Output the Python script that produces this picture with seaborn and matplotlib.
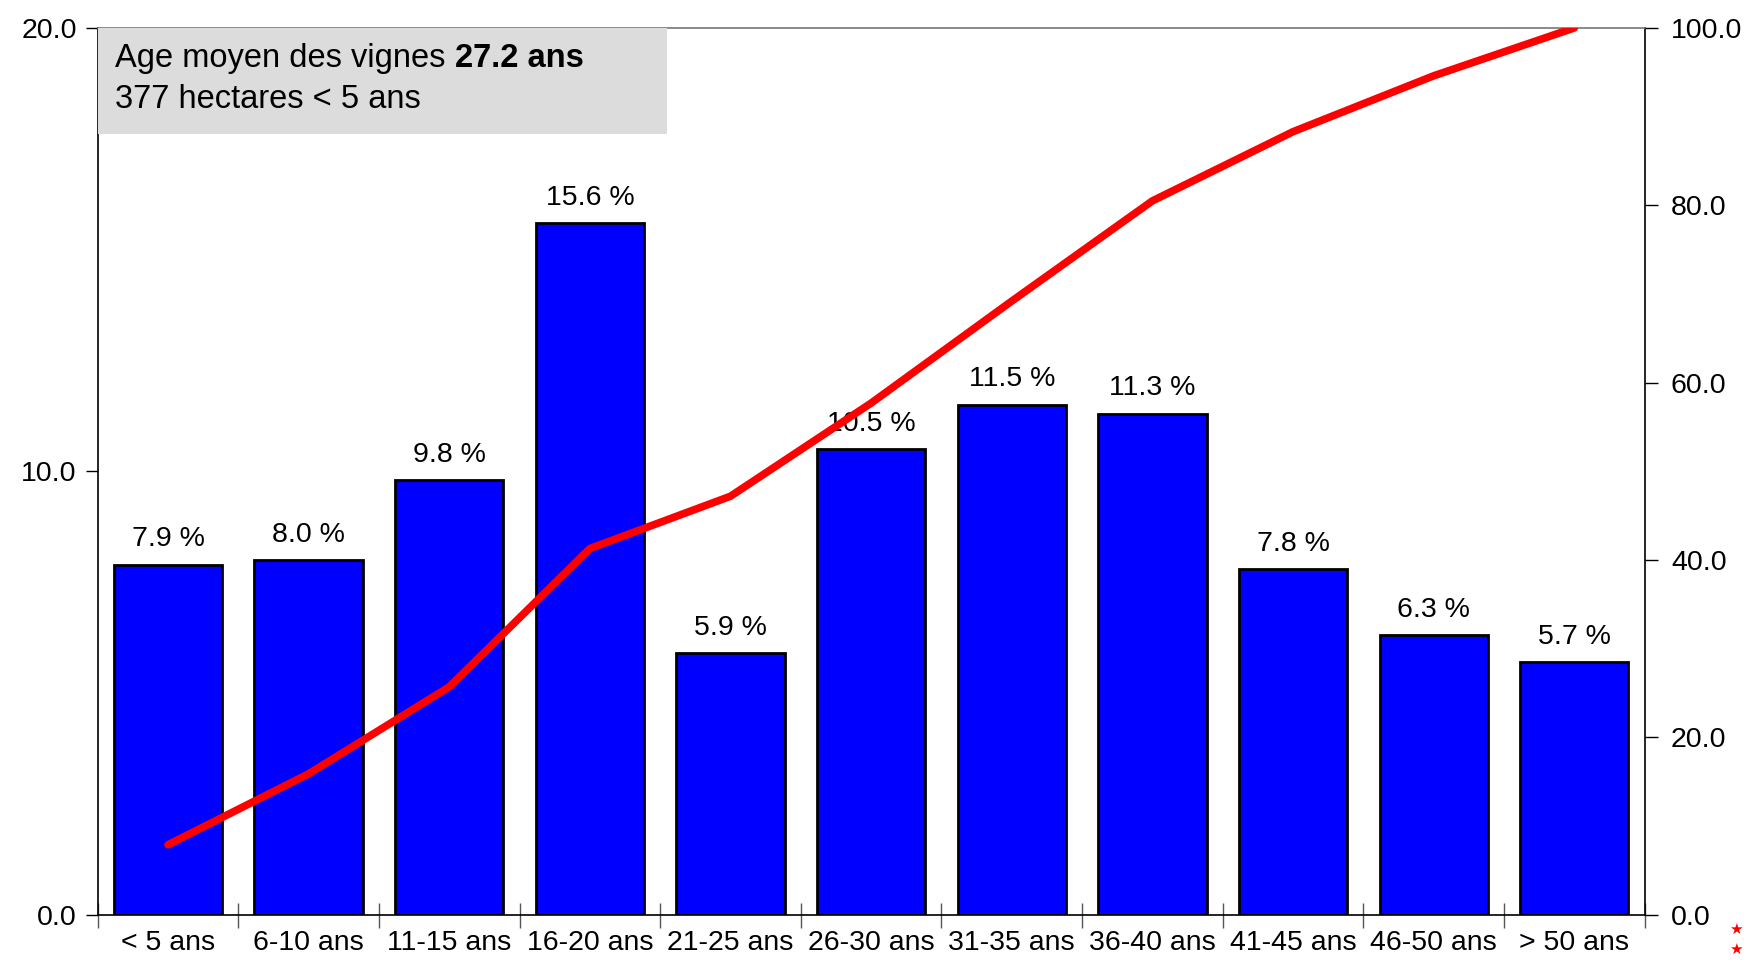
import matplotlib
matplotlib.use("Agg")
import matplotlib.pyplot as plt
import seaborn as sns
from matplotlib.ticker import FixedLocator, FormatStrFormatter

categories = ["< 5 ans", "6-10 ans", "11-15 ans", "16-20 ans", "21-25 ans", "26-30 ans",
              "31-35 ans", "36-40 ans", "41-45 ans", "46-50 ans", "> 50 ans"]
share_pct = [7.9, 8.0, 9.8, 15.6, 5.9, 10.5, 11.5, 11.3, 7.8, 6.3, 5.7]
cumul_pct = [7.9, 15.9, 25.7, 41.3, 47.2, 57.7, 69.2, 80.5, 88.3, 94.6, 100.0]
left_ticks = [0, 10, 20]
right_ticks = [0, 20, 40, 60, 80, 100]
note_line1 = "Age moyen des vignes "
note_bold = "27.2 ans"
note_line2 = "377 hectares < 5 ans"

sns.set_style("white")
plt.rcParams["font.family"] = ["Liberation Sans", "DejaVu Sans"]
plt.rcParams["text.color"] = "black"
plt.rcParams["xtick.color"] = "black"
plt.rcParams["ytick.color"] = "black"
plt.rcParams["xtick.labelcolor"] = "black"
plt.rcParams["ytick.labelcolor"] = "black"

fig = plt.figure(figsize=(17.44, 9.63), dpi=100)
ax = fig.add_axes([0.056, 0.05, 0.887, 0.921])

sns.barplot(x=categories, y=share_pct, color="#0000FF", saturation=1,
            edgecolor="black", linewidth=2, width=0.77, ax=ax, zorder=2)
ax.set_xlim(-0.5, len(categories) - 0.5)
ax.set_ylim(0, 20)
ax.yaxis.set_major_locator(FixedLocator(left_ticks))
ax.yaxis.set_major_formatter(FormatStrFormatter("%.1f"))
ax.tick_params(axis="y", which="major", direction="out", length=9, width=1,
               color="black", labelsize=20.5, pad=6, left=True)
ax.set_xticks(range(len(categories)))
ax.set_xticklabels(categories)
ax.tick_params(axis="x", which="major", length=0, labelsize=20.5, pad=11)
ax.set_xticks([i - 0.5 for i in range(len(categories) + 1)], minor=True)
ax.tick_params(axis="x", which="minor", direction="inout", length=18, width=1,
               color="#555555", bottom=True)
ax.set_xlabel("")
ax.set_ylabel("")

for i, v in enumerate(share_pct):
    ax.text(i, v + 0.28, f"{v:.1f} %", ha="center", va="bottom", fontsize=20.5, zorder=3)

for s in ["left", "bottom", "right"]:
    ax.spines[s].set_color("black")
    ax.spines[s].set_linewidth(1.2)
ax.spines["top"].set_color("#777777")
ax.spines["top"].set_linewidth(1.2)

# annotation box
ax.add_patch(plt.Rectangle((0, 0.88), 0.368, 0.12, transform=ax.transAxes,
                           facecolor="#DCDCDC", edgecolor="none", zorder=4))
t1 = ax.text(0.0115, 0.966, note_line1, transform=ax.transAxes, fontsize=23.5,
             va="center", ha="left", zorder=5)
ax.annotate(note_bold, xy=(1, 0.5), xycoords=t1, va="center", ha="left",
            fontsize=23.5, fontweight="bold", zorder=5)
ax.text(0.0115, 0.919, note_line2, transform=ax.transAxes, fontsize=23.5,
        va="center", ha="left", zorder=5)

ax2 = ax.twinx()
sns.lineplot(x=list(range(len(categories))), y=cumul_pct, color="#FF0000",
             linewidth=5.5, ax=ax2, sort=False, zorder=6)
ax2.set_ylim(0, 100)
ax2.yaxis.set_major_locator(FixedLocator(right_ticks))
ax2.yaxis.set_major_formatter(FormatStrFormatter("%.1f"))
ax2.tick_params(axis="y", direction="out", length=9, width=1, color="black",
                labelsize=20.5, pad=10, right=True)
ax2.set_ylabel("")
for s in ax2.spines.values():
    s.set_visible(False)
ax2.set_xlim(-0.5, len(categories) - 0.5)

fig.text(0.9995, 0.035, "★", color="#FF0000", fontsize=11, ha="right", va="center",
         family=["DejaVu Sans"])
fig.text(0.9995, 0.014, "★", color="#FF0000", fontsize=11, ha="right", va="center",
         family=["DejaVu Sans"])

fig.savefig("out.png", dpi=100)
